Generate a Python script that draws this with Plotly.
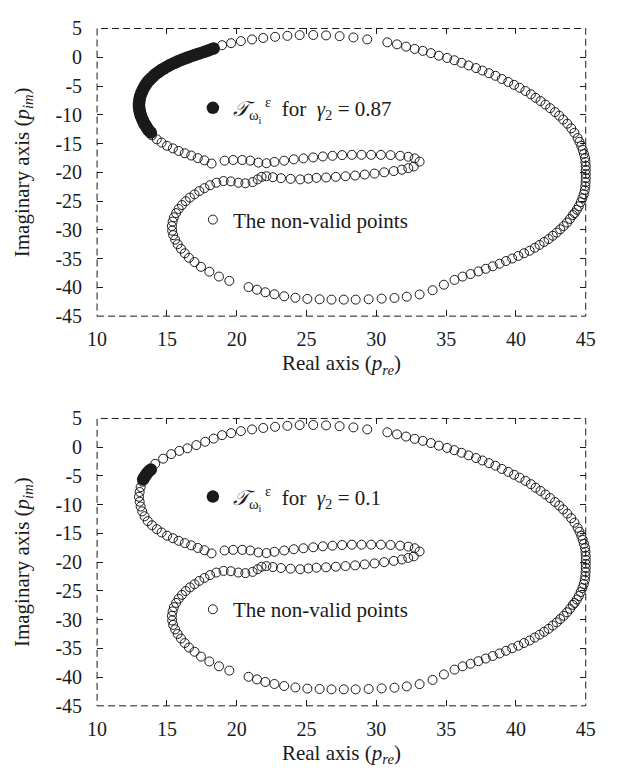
import plotly.graph_objects as go

# ---------------- data ----------------
# full locus, open circles (same in both panels)
open_x = [13.25, 13.45, 13.70,
          14.16, 14.73, 15.31, 15.89, 16.47, 17.11, 17.74, 18.35,
          18.95, 19.60, 20.30, 21.10, 21.90, 22.75, 23.63, 24.51, 25.48, 26.40, 27.37, 28.36, 29.35,
          30.79, 31.48, 32.13, 32.75, 33.33, 33.91, 34.48, 35.07, 35.59, 36.10, 36.61, 37.14, 37.60,
          38.07, 38.53, 38.99, 39.45, 39.87, 40.26, 40.68, 41.07, 41.41, 41.76, 42.11, 42.45, 42.80,
          43.10, 43.38, 43.68, 43.96, 44.19, 44.42, 44.55, 44.68, 44.78, 44.87, 44.95, 44.98, 45.00,
          45.00, 45.00, 45.00, 44.99, 44.97, 44.93, 44.86, 44.76, 44.64, 44.50, 44.36, 44.20,
          44.07, 43.87, 43.66, 43.42, 43.17, 42.92, 42.64, 42.34, 42.02, 41.69, 41.35, 40.98, 40.58,
          40.17, 39.73, 39.29, 38.83, 38.34, 37.84, 37.31, 36.75, 36.18, 35.60, 34.84, 34.03, 33.10,
          32.18, 31.30, 30.38, 29.45, 28.52, 27.67, 26.79, 25.94, 25.06, 24.20, 23.40, 22.70, 22.05,
          21.45, 20.85, 19.47, 18.73, 18.04, 17.44, 16.98, 16.58, 16.28, 16.01, 15.77, 15.59, 15.45,
          15.38, 15.36, 15.41, 15.50, 15.66, 15.84, 16.08, 16.35, 16.65, 16.98, 17.32, 17.69, 18.09,
          18.54, 19.06, 19.58, 20.12, 20.62, 21.14, 21.50, 21.78, 22.13, 22.59, 23.17, 23.86, 24.55,
          25.13, 25.71, 26.40, 27.10, 27.79, 28.48, 29.17, 29.87, 30.56, 31.25, 31.83, 32.29, 32.68,
          33.10, 32.75, 32.29, 31.71, 31.02, 30.33, 29.63, 28.94, 28.25, 27.55, 26.86, 26.17, 25.48,
          24.78, 24.09, 23.40, 22.70, 22.13, 21.55, 20.97, 20.40, 19.75, 19.13, 18.20,
          17.69, 17.21, 16.74, 16.28, 15.84, 15.43, 15.01, 14.62, 14.28, 13.93, 13.63, 13.40, 13.23,
          13.12, 13.05, 13.00, 13.05, 13.12]
open_y = [-6.00, -5.10, -4.30,
          -2.89, -1.99, -1.20, -0.64, -0.19, 0.37, 0.95, 1.50,
          2.10, 2.45, 2.80, 3.10, 3.35, 3.55, 3.72, 3.85, 3.87, 3.80, 3.67, 3.45, 3.10,
          2.60, 2.24, 1.85, 1.45, 1.11, 0.72, 0.27, -0.12, -0.52, -0.97, -1.42, -1.88, -2.31,
          -2.77, -3.22, -3.78, -4.29, -4.80, -5.30, -5.86, -6.43, -7.05, -7.61, -8.23, -8.85, -9.53,
          -10.15, -10.83, -11.55, -12.35, -13.13, -14.04, -14.70, -15.40, -16.10, -16.80, -17.50, -18.20, -18.90,
          -19.60, -20.30, -21.00, -21.70, -22.40, -23.10, -23.80, -24.50, -25.20, -25.90, -26.50, -27.10,
          -27.43, -28.11, -28.73, -29.34, -29.91, -30.47, -31.03, -31.60, -32.11, -32.62, -33.12, -33.63, -34.07,
          -34.53, -34.98, -35.42, -35.88, -36.33, -36.77, -37.23, -37.68, -38.12, -38.70, -39.54, -40.49, -41.23,
          -41.62, -41.84, -41.96, -42.07, -42.13, -42.13, -42.13, -42.07, -42.00, -41.80, -41.55, -41.20, -40.85,
          -40.40, -39.95, -38.87, -38.12, -37.28, -36.43, -35.59, -34.86, -34.07, -33.29, -32.50, -31.70, -30.92,
          -30.14, -29.34, -28.56, -27.82, -27.09, -26.37, -25.69, -25.02, -24.39, -23.83, -23.26, -22.75, -22.25,
          -21.81, -21.52, -21.58, -21.81, -21.91, -21.69, -21.23, -20.79, -20.68, -20.85, -21.02, -21.14, -21.23,
          -21.10, -20.96, -20.90, -20.79, -20.68, -20.56, -20.39, -20.22, -20.00, -19.78, -19.54, -19.27, -18.99,
          -18.14, -17.58, -17.30, -17.13, -17.01, -16.96, -16.96, -16.96, -16.96, -17.01, -17.13, -17.24, -17.41,
          -17.58, -17.75, -17.97, -18.19, -18.42, -18.31, -17.97, -17.86, -17.86, -17.97, -18.48,
          -17.92, -17.53, -17.08, -16.69, -16.28, -15.84, -15.39, -14.83, -14.26, -13.58, -12.86, -12.01, -11.17,
          -10.32, -9.48, -8.63, -7.79, -6.94]

# T set for gamma2 = 0.87 (filled, top panel)
fill_top_x = [13.85, 13.70, 13.58, 13.48, 13.38, 13.30, 13.22, 13.16, 13.10, 13.06, 13.03, 13.01,
              13.00, 13.01, 13.03, 13.06, 13.10, 13.16, 13.23, 13.31, 13.40, 13.50, 13.62, 13.75,
              13.90, 14.05, 14.20, 14.38, 14.55, 14.75, 14.95, 15.15, 15.35, 15.57, 15.80, 16.02,
              16.25, 16.48, 16.70, 16.95, 17.20, 17.45, 17.70, 17.95, 18.20, 18.35]
fill_top_y = [-13.10, -12.70, -12.30, -11.90, -11.50, -11.10, -10.70, -10.30, -9.90, -9.50, -9.10, -8.70,
              -8.30, -7.90, -7.50, -7.10, -6.70, -6.30, -5.90, -5.50, -5.10, -4.70, -4.30, -3.95,
              -3.60, -3.25, -2.90, -2.60, -2.30, -2.00, -1.72, -1.45, -1.20, -0.95, -0.70, -0.48,
              -0.26, -0.05, 0.15, 0.35, 0.56, 0.76, 0.96, 1.18, 1.40, 1.52]

# T set for gamma2 = 0.1 (filled, bottom panel)
fill_bot_x = [13.30, 13.38, 13.47, 13.57, 13.70, 13.85]
fill_bot_y = [-5.60, -5.25, -4.90, -4.55, -4.20, -3.90]

gamma_labels = ["0.87", "0.1"]
x_tickvals = [10, 15, 20, 25, 30, 35, 40, 45]
x_ticktext = ["10", "15", "20", "25", "30", "35", "40", "45"]
y_tickvals = [5, 0, -5, -10, -15, -20, -25, -30, -35, -40, -45]
y_ticktext = ["5", "0", "-5", "-10", "-15", "-20", "-25", "-30", "-35", "-40", "-45"]

# ---------------- figure ----------------
W, H = 618, 780
FONT = "Liberation Serif, Times New Roman, serif"
INK = "#1a1a1a"
TXT = 21

fig = go.Figure()

panels = [("x", "y", fill_top_x, fill_top_y, "legend", "legend2"),
          ("x2", "y2", fill_bot_x, fill_bot_y, "legend3", "legend4")]

for i, (xa, ya, fx, fy, lg1, lg2) in enumerate(panels):
    fig.add_trace(go.Scatter(
        x=open_x, y=open_y, mode="markers", xaxis=xa, yaxis=ya,
        marker=dict(symbol="circle-open", size=9, color=INK, line=dict(width=1, color=INK)),
        name="The non-valid points", legend=lg2, cliponaxis=False))
    fig.add_trace(go.Scatter(
        x=fx, y=fy, mode="markers", xaxis=xa, yaxis=ya,
        marker=dict(symbol="circle", size=12.5, color=INK, line=dict(width=0)),
        name="<i>𝒯</i><sub>ω<sub>i</sub></sub><sup> ε</sup>  for  <i>γ</i><sub>2</sub> = " + gamma_labels[i],
        legend=lg1, cliponaxis=False))

x0, x1 = 90 / W, 595 / W
doms = [(1 - 314 / H, 1 - 18 / H), (1 - 715 / H, 1 - 419.3 / H)]

axis_common = dict(ticks="inside", ticklen=6, tickwidth=1, tickcolor=INK, mirror="ticks",
                   showline=False, showgrid=False, zeroline=False,
                   tickfont=dict(family=FONT, size=20, color=INK))

layout = dict(
    width=W, height=H, margin=dict(l=0, r=0, t=0, b=0),
    paper_bgcolor="white", plot_bgcolor="white",
    font=dict(family=FONT, size=TXT, color=INK),
    showlegend=True,
)
for i, dom in enumerate(doms):
    sx = "" if i == 0 else str(i + 1)
    layout["xaxis" + sx] = dict(axis_common, domain=[x0, x1], range=[10, 45],
                                tickvals=x_tickvals, ticktext=x_ticktext,
                                anchor="y" + sx, ticklabelstandoff=9,
                                title=dict(text="Real axis (<i>p<sub>re</sub></i>)",
                                           font=dict(family=FONT, size=TXT, color=INK), standoff=6))
    layout["yaxis" + sx] = dict(axis_common, domain=list(dom), range=[-45, 5],
                                tickvals=y_tickvals, ticktext=y_ticktext,
                                anchor="x" + sx, ticklabelstandoff=14,
                                title=dict(text="Imaginary axis (<i>p<sub>im</sub></i>)",
                                           font=dict(family=FONT, size=TXT, color=INK), standoff=20))

leg_pos = {"legend": (213, 100), "legend2": (213, 215), "legend3": (213, 500), "legend4": (213, 616)}
for k, (px, py) in leg_pos.items():
    layout[k] = dict(x=(px - 24) / W, y=1 - py / H, xanchor="left", yanchor="middle",
                     bgcolor="rgba(0,0,0,0)", borderwidth=0, itemsizing="trace",
                     font=dict(family=FONT, size=TXT, color=INK))

fig.update_layout(**layout)

for xa, ya in [("x", "y"), ("x2", "y2")]:
    fig.add_shape(type="rect", xref=xa + " domain", yref=ya + " domain",
                  x0=0, x1=1, y0=0, y1=1, layer="below",
                  line=dict(color=INK, width=1, dash="7px,4px"))

fig.write_html("out.html")
